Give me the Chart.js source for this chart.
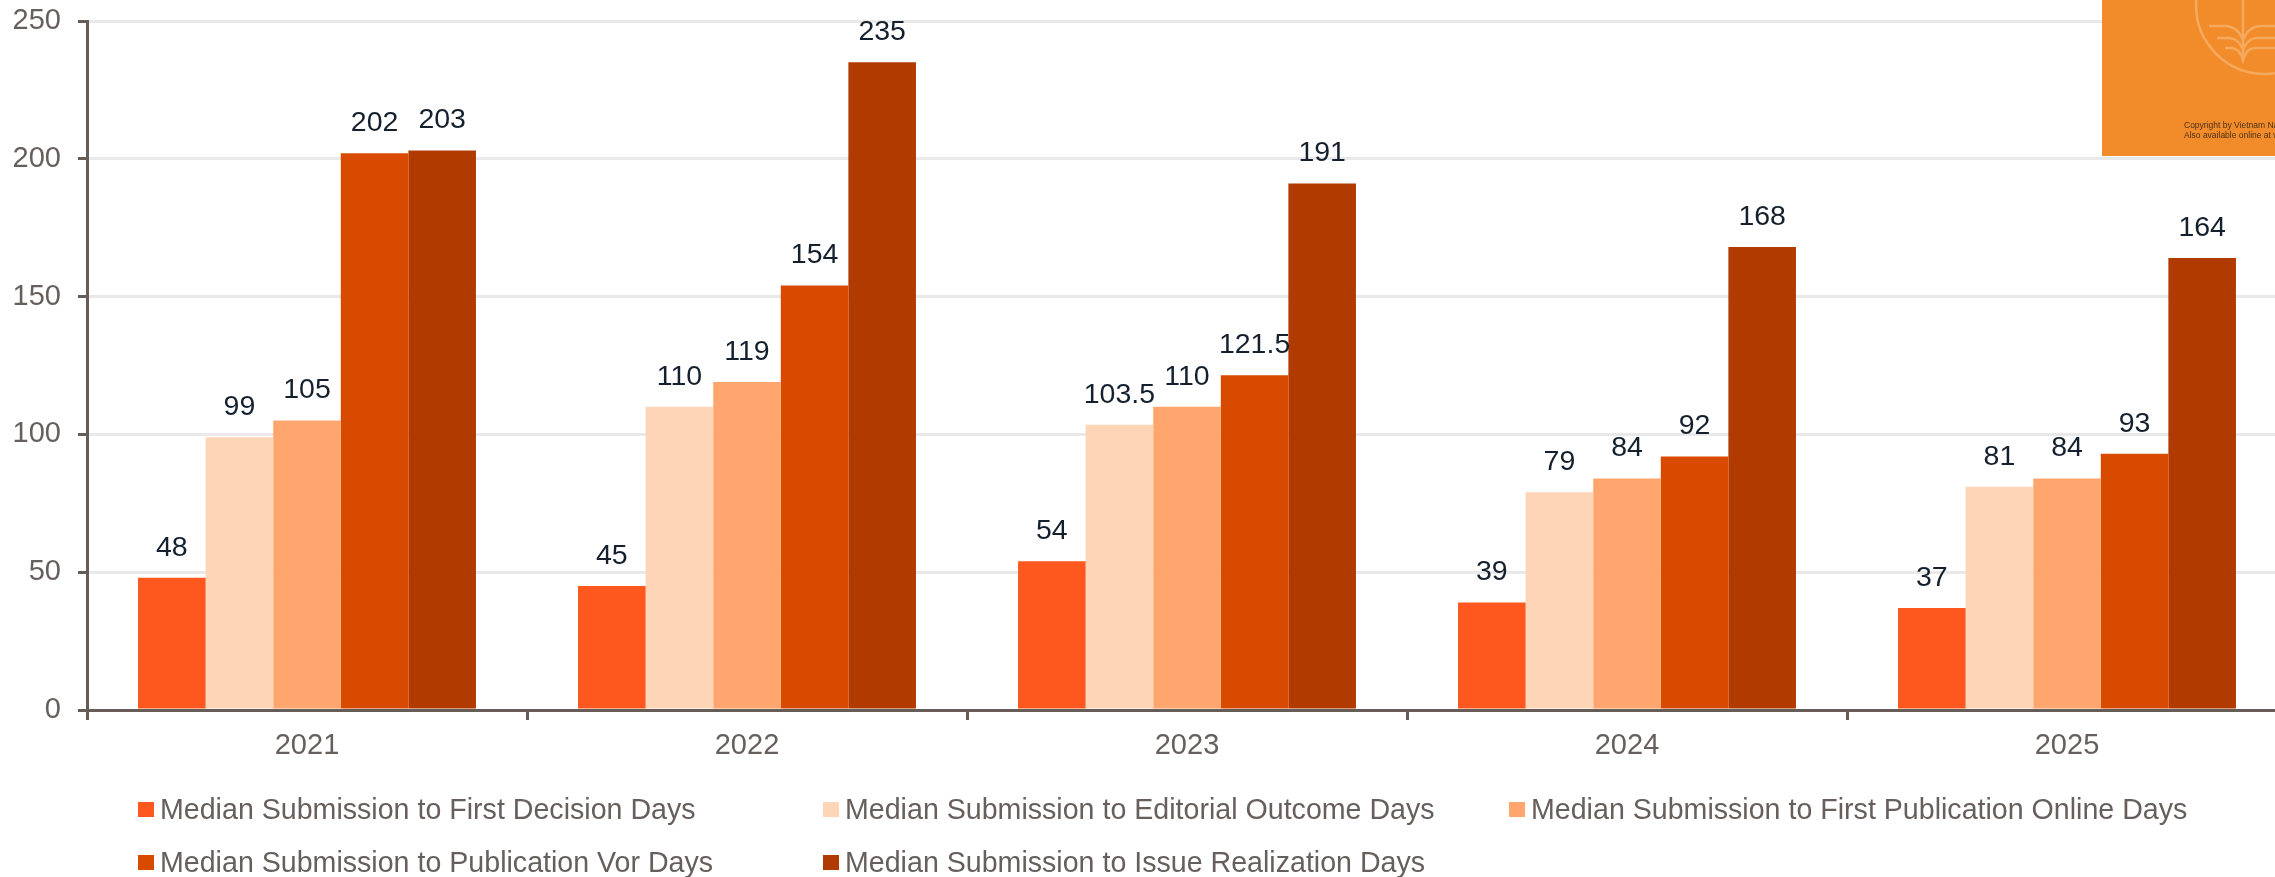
<!DOCTYPE html>
<html>
<head>
<meta charset="utf-8">
<title>Median submission days</title>
<script src="https://cdn.jsdelivr.net/npm/chart.js@4"></script>
<style>
  html, body { margin: 0; padding: 0; width: 2275px; height: 877px; overflow: hidden; background: #fff; }
  #wrap { position: relative; width: 2275px; height: 877px; overflow: hidden; font-family: "Liberation Sans", Arial, sans-serif; }
  #chart { position: absolute; left: 0; top: 0; }
  .legend-item { position: absolute; white-space: nowrap; font-size: 28.6px; line-height: 32px; color: #665f5c; }
  .legend-item i { position: absolute; left: -22px; top: 9px; width: 16px; height: 15px; }
  #cover { position: absolute; left: 2102px; top: 0; width: 173px; height: 156px; background: #f28c2b; overflow: hidden; filter: blur(0.4px); }
  #cover p { position: absolute; left: 82px; margin: 0; font-size: 8.5px; line-height: 10px; white-space: nowrap; color: #4a3118; }
</style>
</head>
<body>
<div id="wrap">
  <canvas id="chart" width="2300" height="877"></canvas>
  <div id="legend"></div>
  <div id="cover">
    <svg width="173" height="156" style="position:absolute;left:0;top:0">
      <g fill="none" stroke="#f5a95e" stroke-width="2.5">
        <circle cx="163" cy="5" r="69"/>
        <path d="M141 0V62"/>
        <path d="M107 26H124Q136 27 141 40Q146 27 158 26H173"/>
        <path d="M115 38H128Q137 39 141 50Q145 39 154 38H173"/>
        <path d="M123 48H130Q138 49 141 60Q144 49 152 48H173"/>
      </g>
    </svg>
    <p style="top:120px">Copyright by Vietnam National University</p>
    <p style="top:130px">Also available online at www.vnu.edu.vn</p>
  </div>
</div>
<script>
const categories = ['2021', '2022', '2023', '2024', '2025'];
const yearTicks = [0, 50, 100, 150, 200, 250];

const firstDecision = [48, 45, 54, 39, 37];
const editorialOutcome = [99, 110, 103.5, 79, 81];
const firstOnline = [105, 119, 110, 84, 84];
const publicationVor = [202, 154, 121.5, 92, 93];
const issueRealization = [203, 235, 191, 168, 164];

const seriesNames = [
  'Median Submission to First Decision Days',
  'Median Submission to Editorial Outcome Days',
  'Median Submission to First Publication Online Days',
  'Median Submission to Publication Vor Days',
  'Median Submission to Issue Realization Days',
];
const seriesColors = ['#ff581f', '#ffd5b8', '#ffa66e', '#d84a00', '#b03a00'];
const seriesValues = [firstDecision, editorialOutcome, firstOnline, publicationVor, issueRealization];

const fontFamily = '"Liberation Sans", Arial, sans-serif';

// no datalabels plugin available, so the numbers over the bars are drawn here
const valueLabels = {
  id: 'valueLabels',
  afterDatasetsDraw(chart) {
    const ctx = chart.ctx;
    ctx.save();
    ctx.font = '28.5px ' + fontFamily;
    ctx.fillStyle = '#14202e';
    ctx.textAlign = 'center';
    ctx.textBaseline = 'middle';
    chart.data.datasets.forEach((ds, i) => {
      chart.getDatasetMeta(i).data.forEach((bar, j) => {
        ctx.fillText(String(ds.data[j]), bar.x, bar.y - 30);
      });
    });
    ctx.restore();
  },
};

const chart = new Chart(document.querySelector('#chart'), {
  type: 'bar',
  data: {
    labels: categories,
    datasets: seriesNames.map((name, i) => ({
      label: name,
      data: seriesValues[i],
      backgroundColor: seriesColors[i],
      categoryPercentage: 0.768,
      barPercentage: 1,
    })),
  },
  options: {
    responsive: false,
    animation: false,
    layout: { padding: { top: 21, right: 13, left: 0, bottom: 0 } },
    plugins: { legend: { display: false }, tooltip: { enabled: false } },
    scales: {
      x: {
        afterFit(scale) { scale.height = 167; },
        border: { color: '#665c58', width: 3 },
        grid: { drawOnChartArea: false, tickColor: '#665c58', tickWidth: 3, tickLength: 10 },
        ticks: { color: '#665f5c', padding: 9, font: { family: fontFamily, size: 29 } },
      },
      y: {
        min: 0,
        max: 250,
        afterFit(scale) { scale.width = 87; scale.paddingTop = 0; scale.paddingBottom = 0; },
        afterBuildTicks(scale) { scale.ticks = yearTicks.map(v => ({ value: v })); },
        border: { color: '#665c58', width: 3 },
        grid: { color: '#e9e9e9', lineWidth: 3, tickColor: '#665c58', tickWidth: 3, tickLength: 9 },
        ticks: { color: '#665f5c', padding: 17, font: { family: fontFamily, size: 29 } },
      },
    },
  },
  plugins: [valueLabels],
});

// legend sits on a fixed two row grid, built from the datasets
const legendX = [160, 845, 1531, 160, 845];
const legendY = [793, 793, 793, 846, 846];
const legendBox = document.querySelector('#legend');
chart.data.datasets.forEach((ds, i) => {
  const item = document.createElement('div');
  item.className = 'legend-item';
  item.style.left = legendX[i] + 'px';
  item.style.top = legendY[i] + 'px';
  item.innerHTML = '<i style="background:' + ds.backgroundColor + '"></i>' + ds.label;
  legendBox.appendChild(item);
});
</script>
</body>
</html>
